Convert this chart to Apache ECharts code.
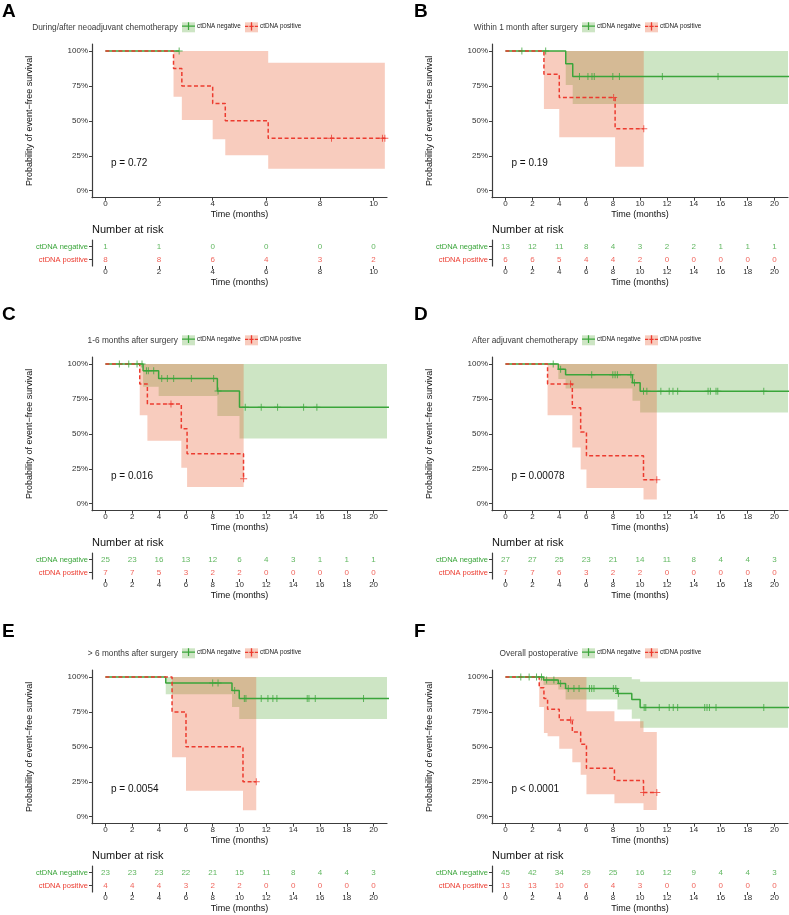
<!DOCTYPE html>
<html>
<head>
<meta charset="utf-8">
<script src="https://cdn.jsdelivr.net/npm/echarts@6/dist/echarts.min.js"></script>
<style>
html, body { margin: 0; padding: 0; background: #fff; }
#main { width: 789px; height: 915px; }
</style>
</head>
<body>
<div id="main"></div>
<script>
// ---- data ----
var xTicksA = [0, 2, 4, 6, 8, 10];
var xTicks20 = [0, 2, 4, 6, 8, 10, 12, 14, 16, 18, 20];
var yTicks = [0, 0.25, 0.5, 0.75, 1];
var riskRows = ['ctDNA positive', 'ctDNA negative'];

var panelLetters = ['A', 'B', 'C', 'D', 'E', 'F'];
var panelTitles = ['During/after neoadjuvant chemotherapy', 'Within 1 month after surgery',
    '1-6 months after surgery', 'After adjuvant chemotherapy', '> 6 months after surgery', 'Overall postoperative'];
var pValues = ['p = 0.72', 'p = 0.19', 'p = 0.016', 'p = 0.00078', 'p = 0.0054', 'p < 0.0001'];

// A
var riskNegA = [1, 1, 0, 0, 0, 0];
var riskPosA = [8, 8, 6, 4, 3, 2];
var negTimeA = [0, 2.75];
var negSurvA = [1, 1];
var negCensA = [2.75];
var posTimeA = [0, 2.54, 2.85, 4.0, 4.47, 6.07, 10.42];
var posSurvA = [1, 0.875, 0.75, 0.625, 0.5, 0.375, 0.375];
var posCensA = [8.43, 10.33, 10.42];
var negBandTimeA = [];
var negBandLowA = [];
var negBandUpA = [];
var posBandTimeA = [2.54, 2.85, 4.0, 4.47, 6.07, 10.42];
var posBandLowA = [0.673, 0.506, 0.368, 0.253, 0.157];
var posBandUpA = [1, 1, 1, 1, 0.916];

// B
var riskNegB = [13, 12, 11, 8, 4, 3, 2, 2, 1, 1, 1];
var riskPosB = [6, 6, 5, 4, 4, 2, 0, 0, 0, 0, 0];
var negTimeB = [0, 4.48, 5.0, 22];
var negSurvB = [1, 0.909, 0.818, 0.818];
var negCensB = [1.22, 2.99, 5.5, 6.13, 6.43, 6.6, 7.98, 8.47, 11.66, 15.8];
var posTimeB = [0, 2.86, 4.0, 8.15, 10.28];
var posSurvB = [1, 0.833, 0.667, 0.444, 0.444];
var posCensB = [8.04, 10.28];
var negBandTimeB = [4.48, 5.0, 22];
var negBandLowB = [0.757, 0.621];
var negBandUpB = [1, 1];
var posBandTimeB = [2.86, 4.0, 8.15, 10.28];
var posBandLowB = [0.585, 0.382, 0.172];
var posBandUpB = [1, 1, 1];

// C
var riskNegC = [25, 23, 16, 13, 12, 6, 4, 3, 1, 1, 1];
var riskPosC = [7, 7, 5, 3, 2, 2, 0, 0, 0, 0, 0];
var negTimeC = [0, 2.81, 3.97, 8.35, 10.0, 22];
var negSurvC = [1, 0.952, 0.896, 0.806, 0.691, 0.691];
var negCensC = [1.04, 1.74, 2.36, 2.73, 3.06, 3.2, 3.6, 4.2, 4.62, 5.09, 6.41, 8.07, 8.4, 10.43, 11.62, 12.84, 14.78, 15.77];
var posTimeC = [0, 2.56, 3.13, 5.66, 6.09, 10.3];
var posSurvC = [1, 0.857, 0.714, 0.536, 0.357, 0.179];
var posCensC = [4.89, 10.31];
var negBandTimeC = [2.81, 3.97, 8.35, 10.0, 22];
var negBandLowC = [0.837, 0.770, 0.627, 0.467];
var negBandUpC = [1, 1, 1, 1];
var posBandTimeC = [2.56, 3.13, 5.66, 6.09, 10.31];
var posBandLowC = [0.634, 0.450, 0.258, 0.120];
var posBandUpC = [1, 1, 1, 1];

// D
var riskNegD = [27, 27, 25, 23, 21, 14, 11, 8, 4, 4, 3];
var riskPosD = [7, 7, 6, 3, 2, 2, 0, 0, 0, 0, 0];
var negTimeD = [0, 3.93, 4.47, 9.44, 10.01, 22];
var negSurvD = [1, 0.962, 0.923, 0.866, 0.805, 0.805];
var negCensD = [3.55, 4.1, 6.41, 7.98, 8.15, 8.32, 9.32, 9.59, 10.26, 10.51, 11.55, 12.17, 12.45, 12.8, 15.06, 15.23, 15.65, 15.78, 19.2];
var posTimeD = [0, 3.13, 4.97, 5.59, 6.02, 10.26, 11.25];
var posSurvD = [1, 0.857, 0.686, 0.514, 0.343, 0.171, 0.171];
var posCensD = [4.84, 11.25];
var negBandTimeD = [3.93, 4.47, 9.44, 10.01, 22];
var negBandLowD = [0.892, 0.825, 0.737, 0.653];
var negBandUpD = [1, 1, 1, 1];
var posBandTimeD = [3.13, 4.97, 5.59, 6.02, 10.26, 11.25];
var posBandLowD = [0.634, 0.402, 0.244, 0.112, 0.031];
var posBandUpD = [1, 1, 1, 1, 1];

// E
var riskNegE = [23, 23, 23, 22, 21, 15, 11, 8, 4, 4, 3];
var riskPosE = [4, 4, 4, 3, 2, 2, 0, 0, 0, 0, 0];
var negTimeE = [0, 4.5, 9.44, 9.98, 22];
var negSurvE = [1, 0.957, 0.904, 0.846, 0.846];
var negCensE = [8.0, 8.4, 9.64, 10.36, 10.48, 11.62, 12.12, 12.49, 12.79, 15.05, 15.18, 15.65, 19.25];
var posTimeE = [0, 4.97, 6.01, 10.26, 11.25];
var posSurvE = [1, 0.75, 0.5, 0.25, 0.25];
var posCensE = [11.25];
var negBandTimeE = [4.5, 9.44, 9.98, 22];
var negBandLowE = [0.877, 0.786, 0.700];
var negBandUpE = [1, 1, 1];
var posBandTimeE = [4.97, 6.01, 10.26, 11.25];
var posBandLowE = [0.425, 0.185, 0.046];
var posBandUpE = [1, 1, 1];

// F
var riskNegF = [45, 42, 34, 29, 25, 16, 12, 9, 4, 4, 3];
var riskPosF = [13, 13, 10, 6, 4, 3, 0, 0, 0, 0, 0];
var negTimeF = [0, 2.83, 3.93, 4.47, 8.32, 9.39, 10.01, 22];
var negSurvF = [1, 0.978, 0.954, 0.918, 0.882, 0.839, 0.781, 0.781];
var negCensF = [1.14, 1.76, 2.31, 2.68, 3.06, 3.6, 4.1, 4.67, 5.09, 5.47, 6.24, 6.41, 6.58, 8.02, 8.2, 8.4, 10.31, 10.43, 11.43, 12.17, 12.47, 12.8, 14.81, 14.98, 15.16, 15.65, 19.2];
var posTimeF = [0, 2.51, 2.86, 3.13, 4.0, 4.97, 5.59, 6.02, 8.1, 10.26, 11.25];
var posSurvF = [1, 0.923, 0.846, 0.769, 0.692, 0.606, 0.519, 0.346, 0.26, 0.173, 0.173];
var posCensF = [4.84, 10.27, 11.25];
var negBandTimeF = [2.83, 3.93, 4.47, 8.32, 9.39, 10.01, 22];
var negBandLowF = [0.942, 0.911, 0.839, 0.767, 0.702, 0.637];
var negBandUpF = [1, 1, 1, 1, 0.983, 0.966];
var posBandTimeF = [2.51, 2.86, 3.13, 4.0, 4.97, 5.59, 6.02, 8.1, 10.26, 11.25];
var posBandLowF = [0.786, 0.60, 0.575, 0.486, 0.389, 0.300, 0.161, 0.096, 0.048];
var posBandUpF = [1, 1, 1, 1, 1, 1, 0.755, 0.683, 0.606];

// ---- panels built from the arrays above ----
var panels = [
    { ticks: xTicksA, xMax: 10, riskNeg: riskNegA, riskPos: riskPosA,
      negTime: negTimeA, negSurv: negSurvA, negCens: negCensA, posTime: posTimeA, posSurv: posSurvA, posCens: posCensA,
      negBand: [negBandTimeA, negBandLowA, negBandUpA], posBand: [posBandTimeA, posBandLowA, posBandUpA] },
    { ticks: xTicks20, xMax: 20, riskNeg: riskNegB, riskPos: riskPosB,
      negTime: negTimeB, negSurv: negSurvB, negCens: negCensB, posTime: posTimeB, posSurv: posSurvB, posCens: posCensB,
      negBand: [negBandTimeB, negBandLowB, negBandUpB], posBand: [posBandTimeB, posBandLowB, posBandUpB] },
    { ticks: xTicks20, xMax: 20, riskNeg: riskNegC, riskPos: riskPosC,
      negTime: negTimeC, negSurv: negSurvC, negCens: negCensC, posTime: posTimeC, posSurv: posSurvC, posCens: posCensC,
      negBand: [negBandTimeC, negBandLowC, negBandUpC], posBand: [posBandTimeC, posBandLowC, posBandUpC] },
    { ticks: xTicks20, xMax: 20, riskNeg: riskNegD, riskPos: riskPosD,
      negTime: negTimeD, negSurv: negSurvD, negCens: negCensD, posTime: posTimeD, posSurv: posSurvD, posCens: posCensD,
      negBand: [negBandTimeD, negBandLowD, negBandUpD], posBand: [posBandTimeD, posBandLowD, posBandUpD] },
    { ticks: xTicks20, xMax: 20, riskNeg: riskNegE, riskPos: riskPosE,
      negTime: negTimeE, negSurv: negSurvE, negCens: negCensE, posTime: posTimeE, posSurv: posSurvE, posCens: posCensE,
      negBand: [negBandTimeE, negBandLowE, negBandUpE], posBand: [posBandTimeE, posBandLowE, posBandUpE] },
    { ticks: xTicks20, xMax: 20, riskNeg: riskNegF, riskPos: riskPosF,
      negTime: negTimeF, negSurv: negSurvF, negCens: negCensF, posTime: posTimeF, posSurv: posSurvF, posCens: posCensF,
      negBand: [negBandTimeF, negBandLowF, negBandUpF], posBand: [posBandTimeF, posBandLowF, posBandUpF] }
];

// ---- styling / layout ----
var FONT = '"Liberation Sans", Arial, sans-serif';
var GREEN = '#3aa53a';
var RED = '#ec3b2f';
var GREEN_BAND = 'rgba(90,170,60,0.3)';
var RED_BAND = 'rgba(232,85,40,0.3)';
var AXIS = '#3c3c3c';
var PLUS = 'path://M4.3,0h1.4v4.3h4.3v1.4h-4.3v4.3h-1.4v-4.3h-4.3v-1.4h4.3z';
var KEY_NEG = 'path://M0,4.4H13V5.6H0Z M5.9,1.2H7.1V8.8H5.9Z';
var KEY_POS = 'path://M0.5,4.4H3.5V5.6H0.5Z M4.5,4.4H8.5V5.6H4.5Z M9.5,4.4H12.5V5.6H9.5Z M5.9,1.2H7.1V8.8H5.9Z';

var colLeft = [92, 492];
var colWidth = [295, 296];
var rowOff = [0, 313, 626];
var letterY = [11.7, 315, 631.5];

function survAt(times, surv, t) {
    var s = surv[0];
    for (var i = 0; i < times.length; i++) {
        if (times[i] <= t) s = surv[i];
    }
    return s;
}

function bandSeries(band, fill, gi) {
    var times = band[0], low = band[1], up = band[2];
    return {
        type: 'custom', xAxisIndex: gi, yAxisIndex: gi, silent: true, clip: true, z: 1,
        data: [[times[0], low[0]]],
        renderItem: function (params, api) {
            var pts = [];
            for (var i = 0; i < up.length; i++) {
                pts.push(api.coord([times[i], up[i]]));
                pts.push(api.coord([times[i + 1], up[i]]));
            }
            for (var j = low.length - 1; j >= 0; j--) {
                pts.push(api.coord([times[j + 1], low[j]]));
                pts.push(api.coord([times[j], low[j]]));
            }
            return { type: 'polygon', shape: { points: pts }, style: { fill: fill } };
        }
    };
}

var grids = [], xAxes = [], yAxes = [], series = [], legends = [], graphics = [];
var tickFont = { fontSize: 8, color: '#303030', fontFamily: FONT };

panels.forEach(function (p, i) {
    var col = i % 2, row = Math.floor(i / 2), off = rowOff[row];
    var xmin = -p.xMax * 0.05, xmax = p.xMax * 1.05;
    var ri = 6 + i;

    grids[i] = { left: colLeft[col], top: 44 + off, width: colWidth[col], height: 153.7 };
    grids[ri] = { left: colLeft[col], top: 240 + off, width: colWidth[col], height: 26 };

    [i, ri].forEach(function (gi) {
        xAxes[gi] = {
            type: 'value', gridIndex: gi, min: xmin, max: xmax,
            axisLine: { onZero: false, lineStyle: { color: AXIS, width: 1.2 } },
            axisTick: { show: true, length: 3, customValues: p.ticks, lineStyle: { color: AXIS } },
            axisLabel: Object.assign({ customValues: p.ticks, margin: 2 }, tickFont),
            splitLine: { show: false },
            name: 'Time (months)', nameLocation: 'middle', nameGap: 12,
            nameTextStyle: { fontSize: 9, color: '#111', fontFamily: FONT }
        };
    });

    yAxes[i] = {
        type: 'value', gridIndex: i, min: -0.05, max: 1.05,
        axisLine: { show: true, onZero: false, lineStyle: { color: AXIS, width: 1.2 } },
        axisTick: { show: true, length: 3, customValues: yTicks, lineStyle: { color: AXIS } },
        axisLabel: Object.assign({
            customValues: yTicks, margin: 4,
            formatter: function (v) { return Math.round(v * 100) + '%'; }
        }, tickFont),
        splitLine: { show: false },
        name: 'Probability of event\u2212free survival', nameLocation: 'middle', nameGap: 58, nameRotate: 90,
        nameTextStyle: { fontSize: 9, color: '#111', fontFamily: FONT }
    };
    yAxes[ri] = {
        type: 'category', gridIndex: ri, data: riskRows,
        axisLine: { show: true, onZero: false, lineStyle: { color: AXIS, width: 1.2 } },
        axisTick: { show: true, length: 3, alignWithLabel: true, lineStyle: { color: AXIS } },
        axisLabel: {
            margin: 4, fontSize: 7.5, fontFamily: FONT,
            color: function (v) { return v === 'ctDNA negative' ? GREEN : RED; }
        }
    };

    // confidence bands
    if (p.negBand[0].length) series.push(bandSeries(p.negBand, GREEN_BAND, i));
    if (p.posBand[0].length) series.push(bandSeries(p.posBand, RED_BAND, i));

    // survival curves
    series.push({
        name: 'ctDNA negative', type: 'line', step: 'end', xAxisIndex: i, yAxisIndex: i,
        showSymbol: false, color: GREEN, z: 3, silent: true,
        lineStyle: { color: GREEN, width: 1.5 },
        data: p.negTime.map(function (t, k) { return [t, p.negSurv[k]]; })
    });
    series.push({
        name: 'ctDNA positive', type: 'line', step: 'end', xAxisIndex: i, yAxisIndex: i,
        showSymbol: false, color: RED, z: 4, silent: true,
        lineStyle: { color: RED, width: 1.5, type: [4, 2.5] },
        data: p.posTime.map(function (t, k) { return [t, p.posSurv[k]]; })
    });

    // censor marks
    series.push({
        type: 'scatter', xAxisIndex: i, yAxisIndex: i, symbol: PLUS, symbolSize: 7, z: 5, silent: true,
        itemStyle: { color: GREEN },
        data: p.negCens.map(function (t) { return [t, survAt(p.negTime, p.negSurv, t)]; })
    });
    series.push({
        type: 'scatter', xAxisIndex: i, yAxisIndex: i, symbol: PLUS, symbolSize: 7, z: 6, silent: true,
        itemStyle: { color: RED },
        data: p.posCens.map(function (t) { return [t, survAt(p.posTime, p.posSurv, t)]; })
    });

    // number at risk table
    [['ctDNA negative', p.riskNeg, GREEN], ['ctDNA positive', p.riskPos, RED]].forEach(function (r) {
        series.push({
            type: 'scatter', xAxisIndex: ri, yAxisIndex: ri, symbolSize: 1, silent: true,
            itemStyle: { color: 'rgba(0,0,0,0)' },
            label: {
                show: true, position: 'inside', color: r[2], fontSize: 8, fontFamily: FONT,
                formatter: function (d) { return d.data[2]; }
            },
            data: p.ticks.map(function (t, k) { return [t, r[0], r[1][k]]; })
        });
    });

    // legend (ggplot style keys)
    var legY = 27.3 + off;
    var keyX = [182 + col * 400, 245 + col * 400];
    graphics.push({ type: 'rect', z: -1, shape: { x: keyX[0], y: legY - 5, width: 13, height: 10 }, style: { fill: GREEN_BAND } });
    graphics.push({ type: 'rect', z: -1, shape: { x: keyX[1], y: legY - 5, width: 13, height: 10 }, style: { fill: RED_BAND } });
    legends.push({
        data: [{ name: 'ctDNA negative', icon: KEY_NEG }], left: keyX[0], top: legY - 5,
        itemWidth: 13, itemHeight: 10, padding: 0, selectedMode: false,
        textStyle: { fontSize: 6.3, color: '#1a1a1a', fontFamily: FONT, padding: [0, 0, 0, -3] }
    });
    legends.push({
        data: [{ name: 'ctDNA positive', icon: KEY_POS }], left: keyX[1], top: legY - 5,
        itemWidth: 13, itemHeight: 10, padding: 0, selectedMode: false,
        textStyle: { fontSize: 6.3, color: '#1a1a1a', fontFamily: FONT, padding: [0, 0, 0, -3] }
    });
    graphics.push({
        type: 'text', x: 178 + col * 400, y: legY,
        style: { text: panelTitles[i], fontSize: 8.3, fontFamily: FONT, fill: '#3a3a3a', align: 'right', verticalAlign: 'middle' }
    });

    // panel letter, p value, risk title
    graphics.push({
        type: 'text', x: col ? 414 : 2, y: letterY[row],
        style: { text: panelLetters[i], fontSize: 19, fontWeight: 'bold', fontFamily: FONT, fill: '#000', verticalAlign: 'middle' }
    });
    graphics.push({
        type: 'text', x: col ? 511.5 : 111, y: 163.7 + off,
        style: { text: pValues[i], fontSize: 10, fontFamily: FONT, fill: '#111', verticalAlign: 'middle' }
    });
    graphics.push({
        type: 'text', x: colLeft[col], y: 230 + off,
        style: { text: 'Number at risk', fontSize: 11, fontFamily: FONT, fill: '#111', verticalAlign: 'middle' }
    });
});

var chart = echarts.init(document.getElementById('main'), null, { renderer: 'canvas' });
chart.setOption({
    animation: false,
    backgroundColor: '#fff',
    textStyle: { fontFamily: FONT },
    grid: grids,
    xAxis: xAxes,
    yAxis: yAxes,
    legend: legends,
    graphic: graphics,
    series: series
});
</script>
</body>
</html>
